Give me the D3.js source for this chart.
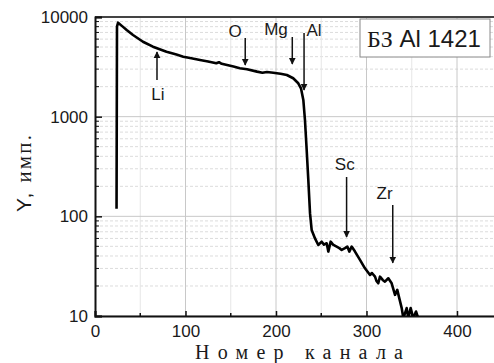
<!DOCTYPE html>
<html>
<head>
<meta charset="utf-8">
<script src="https://cdn.jsdelivr.net/npm/d3@7"></script>
<style>
  html, body { margin: 0; padding: 0; background: #fff; }
  svg { display: block; }
</style>
</head>
<body>
<div id="chart"></div>
<script>
// spectrum: channel number -> counts
const channels = [23.8, 24.3, 25.5, 30, 35, 42, 53, 64, 79, 90, 97.5, 105, 116, 125, 134, 137, 140, 153, 160, 168, 179, 185, 190, 197, 205, 212, 219, 224.6, 227.6, 230.2, 232, 233.9, 235.7, 237.6, 239.4, 243.1, 246.7, 250.5, 253, 256, 257.8, 260.4, 263, 267, 270, 272.6, 276.2, 278.8, 281, 283.6, 287.3, 292.8, 298.3, 301, 303.9, 306, 309.4, 311, 313, 314.9, 317.9, 320.4, 324.1, 327.8, 331.5, 334, 336.2, 338.9, 340.7, 344.4, 346.2, 348.8, 351.7, 354.7, 357.2];
const counts = [119, 8000, 8770, 8100, 7410, 6600, 5650, 5040, 4490, 4200, 4000, 3870, 3710, 3580, 3430, 3520, 3390, 3180, 3060, 2990, 2830, 2760, 2810, 2763, 2700, 2620, 2428, 2163, 1927, 1471, 926, 463, 232, 107, 73, 60, 51.6, 55.7, 52, 53.7, 44.3, 55.7, 52, 49.7, 48, 46, 47.9, 49.7, 44.3, 49.7, 44.3, 36.5, 30.1, 28, 25.8, 27, 24.8, 22.5, 21.3, 24.8, 23, 22.1, 23.9, 21.3, 16.3, 18.3, 15.1, 12, 9.5, 12, 9.5, 12, 9.5, 11.1, 9.5];

// element markers: arrow channel, tail value, tip value, label channel, label value
const elements = ['Li', 'O', 'Mg', 'Al', 'Sc', 'Zr'];
const arrowChannel = [68.5, 166, 218, 231, 278, 329];
const arrowTail = [2334, 6155, 6298, 6911, 248, 130];
const arrowTip = [4457, 3303, 3381, 1854, 62, 34.1];
const labelChannel = [69.6, 154.7, 200, 242, 276, 320];
const labelValue = [1469, 6298, 6600, 6445, 292, 150];

const xTicks = [0, 100, 200, 300, 400];
const xMinorTicks = [50, 150, 250, 350, 450];
const yTicks = [10, 100, 1000, 10000];
const sampleName = 'БЗ Al 1421';
const xTitle = 'Номер канала';

const width = 494, height = 363;
const margin = { top: 17, left: 95, bottom: 47 };
const plotBottom = height - margin.bottom;
const sans = 'Liberation Sans, Arial, sans-serif';
const serif = 'Liberation Serif, Times New Roman, serif';

const svg = d3.select('#chart').append('svg')
  .attr('width', width)
  .attr('height', height);

const x = d3.scaleLinear().domain([0, 450]).range([margin.left, margin.left + 450 * 0.905]);
const y = d3.scaleLog().domain([10, 10000]).range([plotBottom, margin.top]);

const yMinor = [];
for (let d = 10; d < 10000; d *= 10) {
  for (let k = 2; k <= 9; k++) yMinor.push(d * k);
}

svg.append('defs').append('clipPath').attr('id', 'plot-clip')
  .append('rect')
  .attr('x', margin.left).attr('y', margin.top)
  .attr('width', width - margin.left).attr('height', plotBottom - margin.top);

// grid
const grid = svg.append('g');
grid.selectAll('.ymin').data(yMinor).enter().append('line')
  .attr('x1', margin.left).attr('x2', width)
  .attr('y1', d => y(d)).attr('y2', d => y(d))
  .attr('stroke', '#dcdcdc').attr('stroke-width', 1)
  .attr('stroke-dasharray', '3,2');
grid.selectAll('.xmin').data(xMinorTicks).enter().append('line')
  .attr('x1', d => x(d)).attr('x2', d => x(d))
  .attr('y1', margin.top).attr('y2', plotBottom)
  .attr('stroke', '#e6e6e6').attr('stroke-width', 1);
grid.selectAll('.ymaj').data(yTicks).enter().append('line')
  .attr('x1', margin.left).attr('x2', width)
  .attr('y1', d => y(d)).attr('y2', d => y(d))
  .attr('stroke', '#c8c8c8').attr('stroke-width', 1);
grid.selectAll('.xmaj').data(xTicks.slice(1)).enter().append('line')
  .attr('x1', d => x(d)).attr('x2', d => x(d))
  .attr('y1', margin.top).attr('y2', plotBottom)
  .attr('stroke', '#c8c8c8').attr('stroke-width', 1);

// frame top
svg.append('line')
  .attr('x1', margin.left).attr('x2', width)
  .attr('y1', margin.top).attr('y2', margin.top)
  .attr('stroke', '#444').attr('stroke-width', 2);

// axes
const yAxis = d3.axisLeft(y).tickValues(yTicks).tickSize(-7).tickPadding(7)
  .tickFormat(d3.format('d'));
svg.append('g')
  .attr('transform', `translate(${margin.left},0)`)
  .call(yAxis)
  .call(g => g.select('.domain').attr('stroke', '#111').attr('stroke-width', 2))
  .call(g => g.selectAll('.tick line').attr('stroke', '#111').attr('stroke-width', 1.5))
  .call(g => g.selectAll('.tick text')
    .attr('fill', '#1a1a1a').attr('font-family', sans)
    .attr('font-size', '17px'));
svg.append('g').selectAll('line').data(yMinor).enter().append('line')
  .attr('x1', margin.left).attr('x2', margin.left + 4)
  .attr('y1', d => y(d)).attr('y2', d => y(d))
  .attr('stroke', '#111').attr('stroke-width', 1);

const xAxis = d3.axisBottom(x).tickValues(xTicks).tickSize(-5).tickPadding(9)
  .tickFormat(d3.format('d'));
svg.append('g')
  .attr('transform', `translate(0,${plotBottom})`)
  .call(xAxis)
  .call(g => g.select('.domain').attr('stroke', '#111').attr('stroke-width', 2))
  .call(g => g.selectAll('.tick line').attr('stroke', '#111').attr('stroke-width', 1.5))
  .call(g => g.selectAll('.tick text')
    .attr('fill', '#1a1a1a').attr('font-family', sans)
    .attr('font-size', '17px'));
svg.append('g').selectAll('line').data(xMinorTicks).enter().append('line')
  .attr('x1', d => x(d)).attr('x2', d => x(d))
  .attr('y1', plotBottom).attr('y2', plotBottom - 3)
  .attr('stroke', '#111').attr('stroke-width', 1.5);

// spectrum line
const line = d3.line()
  .x((d, i) => x(channels[i]))
  .y(d => y(d));
svg.append('path')
  .datum(counts)
  .attr('clip-path', 'url(#plot-clip)')
  .attr('fill', 'none')
  .attr('stroke', '#000')
  .attr('stroke-width', 2.6)
  .attr('stroke-linejoin', 'round')
  .attr('d', line);

// arrows
svg.select('defs').append('marker')
  .attr('id', 'arrowhead')
  .attr('viewBox', '0 0 10 10')
  .attr('refX', 9).attr('refY', 5)
  .attr('markerWidth', 7).attr('markerHeight', 8)
  .attr('markerUnits', 'userSpaceOnUse')
  .attr('orient', 'auto')
  .append('path').attr('d', 'M0,0 L10,5 L0,10 Z').attr('fill', '#111');

const marks = svg.append('g');
elements.forEach((el, i) => {
  marks.append('line')
    .attr('x1', x(arrowChannel[i])).attr('x2', x(arrowChannel[i]))
    .attr('y1', y(arrowTail[i])).attr('y2', y(arrowTip[i]))
    .attr('stroke', '#111').attr('stroke-width', 1.5)
    .attr('marker-end', 'url(#arrowhead)');
  marks.append('text')
    .attr('x', x(labelChannel[i])).attr('y', y(labelValue[i]))
    .attr('text-anchor', 'middle')
    .attr('font-family', sans)
    .attr('font-size', '17px')
    .attr('fill', '#1a1a1a')
    .text(el);
});

// sample box
svg.append('rect')
  .attr('x', 360).attr('y', 19)
  .attr('width', 130).attr('height', 38)
  .attr('fill', '#fff').attr('stroke', '#888').attr('stroke-width', 1);
const nameText = svg.append('text')
  .attr('x', 367).attr('y', 47)
  .attr('font-family', sans)
  .attr('font-size', '24px')
  .attr('fill', '#1a1a1a');
nameText.append('tspan').attr('font-family', serif).text(sampleName.split(' ')[0]);
nameText.append('tspan').text(' ' + sampleName.split(' ').slice(1).join(' '));

// axis titles
svg.append('text')
  .attr('x', 195).attr('y', 359)
  .attr('font-family', serif)
  .attr('font-size', '20px')
  .attr('fill', '#1a1a1a')
  .attr('textLength', 208)
  .attr('lengthAdjust', 'spacing')
  .text(xTitle);

const yTitle = svg.append('text')
  .attr('transform', 'translate(31,212) rotate(-90)')
  .attr('font-size', '21px')
  .attr('fill', '#1a1a1a')
  .attr('textLength', 77)
  .attr('lengthAdjust', 'spacing');
yTitle.append('tspan').attr('font-family', sans).text('Y, ');
yTitle.append('tspan').attr('font-family', serif).text('имп.');
</script>
</body>
</html>
